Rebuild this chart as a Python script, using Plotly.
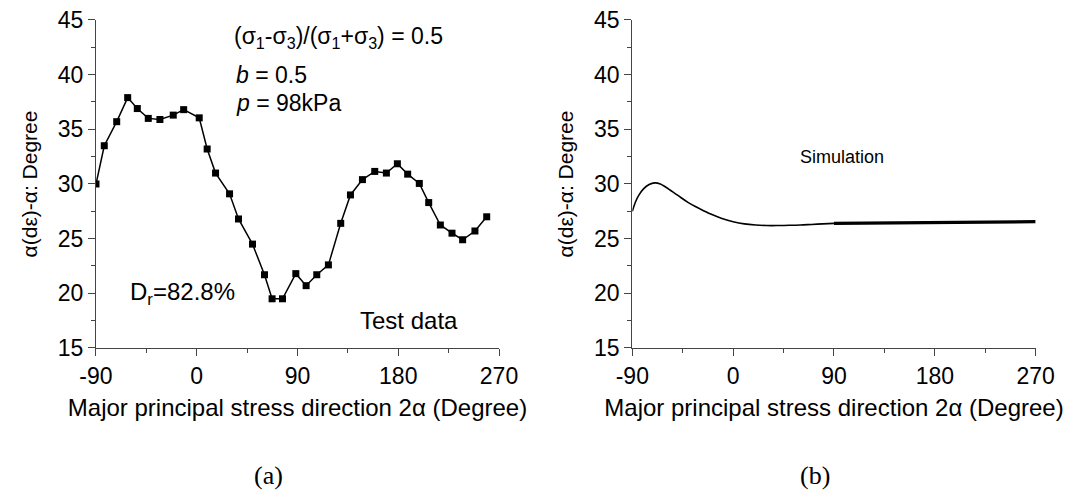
import plotly.graph_objects as go

# Test data (a)
test_x = [-90, -82.6, -71.5, -61.7, -53.1, -43.3, -32.9, -21, -11.7, 2.2, 9.3, 16.8,
          29.3, 37.3, 49.8, 60.5, 67.3, 76.6, 88.5, 97.7, 107.2, 117.6, 128.6, 137.3,
          148, 159, 169.4, 179.2, 188.4, 198.8, 207.2, 217.6, 228, 237.5, 248.5, 259]
test_y = [30.0, 33.5, 35.7, 37.9, 36.9, 36.0, 35.9, 36.3, 36.8, 36.05, 33.2, 31.0,
          29.1, 26.8, 24.5, 21.7, 19.5, 19.5, 21.8, 20.7, 21.7, 22.6, 26.4, 29.0,
          30.4, 31.15, 31.0, 31.85, 30.9, 30.05, 28.3, 26.25, 25.5, 24.9, 25.7, 27.0]

# Simulation (b)
sim_x = [-90, -87, -84, -80, -75, -70, -65, -60, -50, -40, -30, -20, -10, 0, 10, 20,
         30, 40, 50, 60, 70, 80, 90]
sim_y = [27.5, 28.4, 29.0, 29.55, 29.95, 30.1, 30.0, 29.7, 29.0, 28.3, 27.75, 27.25,
         26.85, 26.55, 26.35, 26.25, 26.2, 26.2, 26.22, 26.25, 26.3, 26.35, 26.4]
sim2_x = [90, 135, 180, 225, 270]
sim2_y = [26.4, 26.45, 26.5, 26.52, 26.55]

xticks = [-90, 0, 90, 180, 270]
xticklabels = ["-90", "0", "90", "180", "270"]
yticks = [15, 20, 25, 30, 35, 40, 45]
yticklabels = ["15", "20", "25", "30", "35", "40", "45"]

FONT = "Liberation Sans, Arial, sans-serif"
SERIF = "Liberation Serif, Times New Roman, serif"

fig = go.Figure()
fig.add_trace(go.Scatter(x=test_x, y=test_y, mode="lines+markers",
                         line=dict(color="black", width=1.5),
                         marker=dict(symbol="square", size=7, color="black"),
                         xaxis="x", yaxis="y", showlegend=False))
fig.add_trace(go.Scatter(x=sim_x, y=sim_y, mode="lines", line_shape="spline",
                         line=dict(color="black", width=1.6),
                         xaxis="x2", yaxis="y2", showlegend=False))
fig.add_trace(go.Scatter(x=sim2_x, y=sim2_y, mode="lines",
                         line=dict(color="black", width=3.2),
                         xaxis="x2", yaxis="y2", showlegend=False))

axis_common = dict(showline=True, linecolor="#444", linewidth=1.3, ticks="outside",
                   ticklen=7, tickwidth=1.3, tickcolor="#444", showgrid=False,
                   zeroline=False, tickfont=dict(family=FONT, size=23, color="black"),
                   mirror=False, automargin=False)
xt = "Major principal stress direction 2α (Degree)"
yt = "α(dε)-α: Degree"
xtitle = dict(text=xt, font=dict(family=FONT, size=24, color="black"), standoff=11)
ytitle = dict(text=yt, font=dict(family=FONT, size=21, color="black"), standoff=14)
xminor = dict(ticks="outside", dtick=45, tick0=-90, ticklen=4, tickcolor="#444")
yminor = dict(ticks="outside", dtick=2.5, tick0=15, ticklen=4, tickcolor="#444")

fig.update_layout(
    width=1075, height=495, margin=dict(l=0, r=0, t=0, b=0),
    paper_bgcolor="white", plot_bgcolor="white",
    xaxis=dict(domain=[0.0893, 0.4642], range=[-90, 270], tickvals=xticks, ticktext=xticklabels,
               minor=xminor, title=xtitle, anchor="y", **axis_common),
    yaxis=dict(domain=[0.297, 0.9596], range=[15, 45], tickvals=yticks, ticktext=yticklabels,
               minor=yminor, title=ytitle, anchor="x", **axis_common),
    xaxis2=dict(domain=[0.5882, 0.9634], range=[-90, 270], tickvals=xticks, ticktext=xticklabels,
                minor=xminor, title=xtitle, anchor="y2", **axis_common),
    yaxis2=dict(domain=[0.297, 0.9596], range=[15, 45], tickvals=yticks, ticktext=yticklabels,
                minor=yminor, title=ytitle, anchor="x2", **axis_common),
)

ann_font = dict(family=FONT, size=23, color="black")
anns = [
    dict(x=31.5, y=43.4, xref="x", yref="y", text="(σ<sub>1</sub>-σ<sub>3</sub>)/(σ<sub>1</sub>+σ<sub>3</sub>) = 0.5",
         xanchor="left", yanchor="middle", showarrow=False, font=ann_font),
    dict(x=33.5, y=40.0, xref="x", yref="y", text="<i>b</i> = 0.5",
         xanchor="left", yanchor="middle", showarrow=False, font=ann_font),
    dict(x=33.5, y=37.4, xref="x", yref="y", text="<i>p</i> = 98kPa",
         xanchor="left", yanchor="middle", showarrow=False, font=ann_font),
    dict(x=-61.4, y=20.0, xref="x", yref="y", text="D<sub>r</sub>=82.8%",
         xanchor="left", yanchor="middle", showarrow=False, font=dict(family=FONT, size=24, color="black")),
    dict(x=143.8, y=17.55, xref="x", yref="y", text="Test data",
         xanchor="left", yanchor="middle", showarrow=False, font=dict(family=FONT, size=24, color="black")),
    dict(x=57.9, y=32.5, xref="x2", yref="y2", text="Simulation",
         xanchor="left", yanchor="middle", showarrow=False, font=dict(family=FONT, size=18, color="black")),
    dict(x=268/1075, y=1 - 475/495, xref="paper", yref="paper", text="(a)",
         xanchor="center", yanchor="middle", showarrow=False,
         font=dict(family=SERIF, size=26, color="black")),
    dict(x=815/1075, y=1 - 475/495, xref="paper", yref="paper", text="(b)",
         xanchor="center", yanchor="middle", showarrow=False,
         font=dict(family=SERIF, size=26, color="black")),
]
fig.update_layout(annotations=anns)

fig.write_html("out.html")
